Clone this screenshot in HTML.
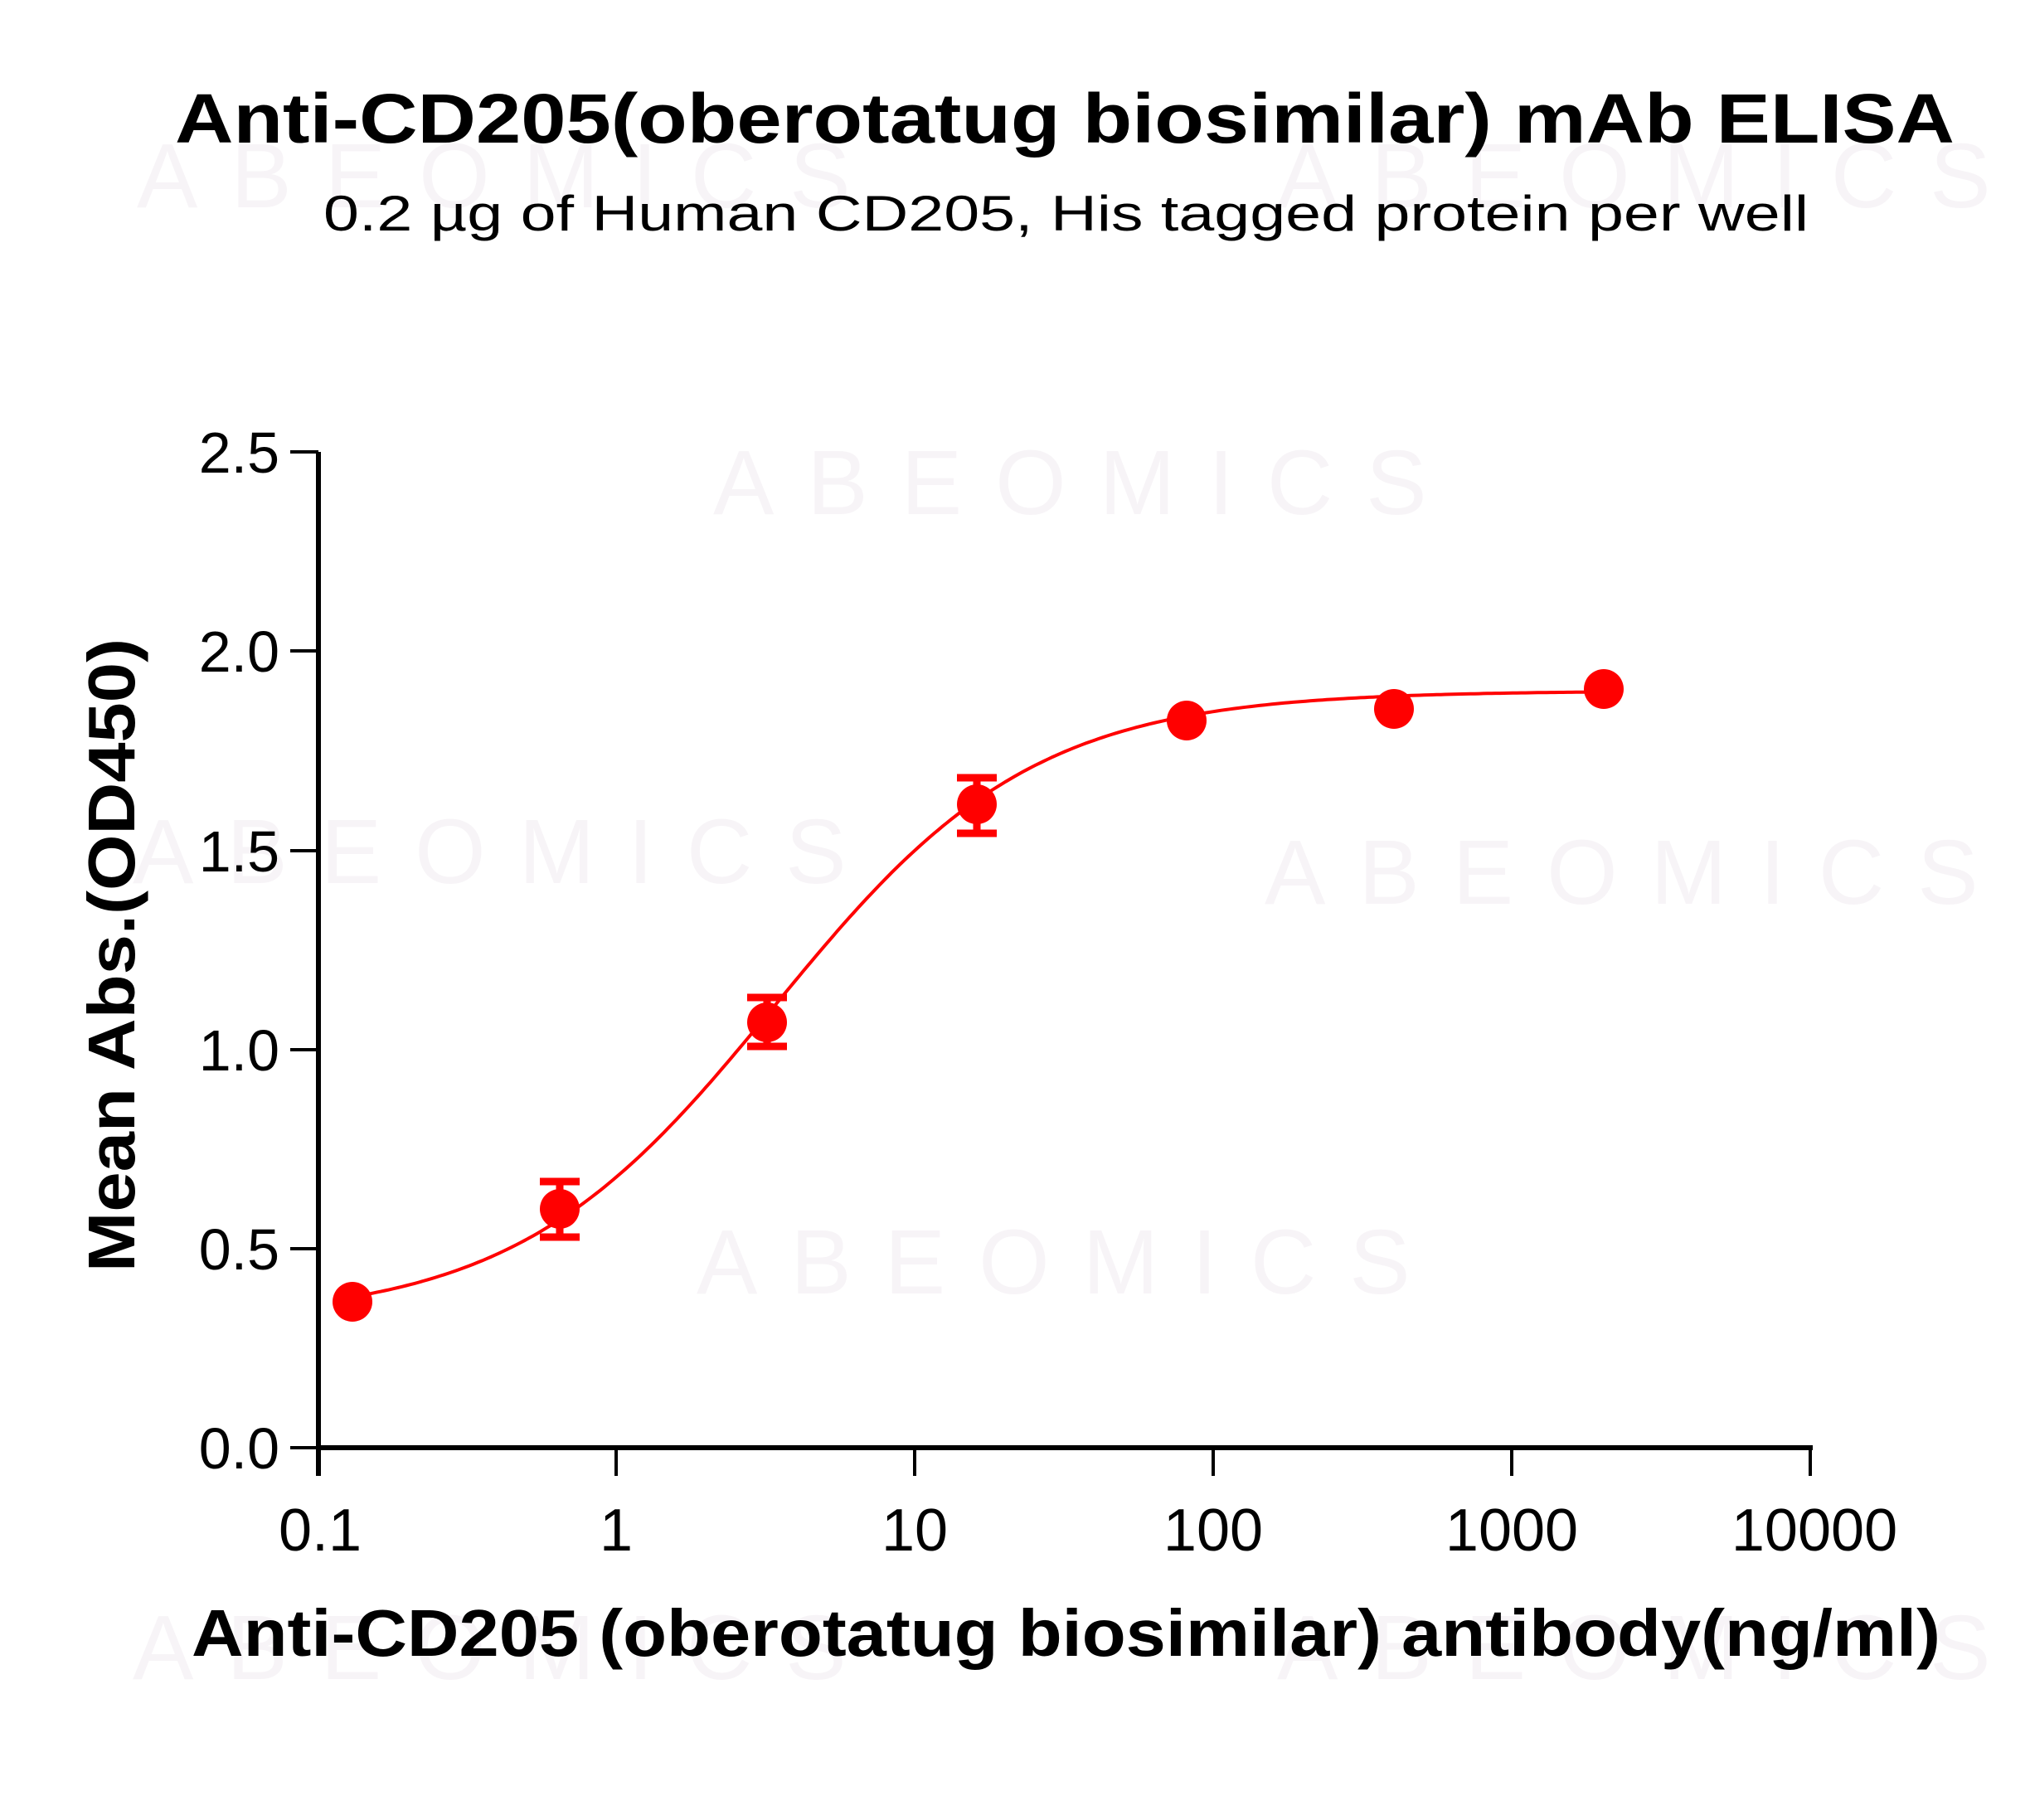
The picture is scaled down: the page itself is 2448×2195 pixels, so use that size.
<!DOCTYPE html>
<html><head><meta charset="utf-8"><style>html,body{margin:0;padding:0;background:#fff}</style></head>
<body>
<svg id="s" width="2448" height="2190" xmlns="http://www.w3.org/2000/svg" font-family="Liberation Sans, sans-serif">
<rect width="2448" height="2190" fill="#fff"/>
<g fill="#f7f4f7" font-size="110" letter-spacing="40">
<text x="165" y="250">ABEOMICS</text><text x="1540" y="250">ABEOMICS</text>
<text x="860" y="620">ABEOMICS</text>
<text x="160" y="1065">ABEOMICS</text><text x="1525" y="1090">ABEOMICS</text>
<text x="840" y="1560">ABEOMICS</text>
<text x="160" y="2025">ABEOMICS</text><text x="1540" y="2025">ABEOMICS</text>
</g>
<text x="211" y="172" font-size="84" font-weight="bold" textLength="2146" lengthAdjust="spacingAndGlyphs">Anti-CD205(oberotatug biosimilar) mAb ELISA</text>
<text x="390" y="278" font-size="60" textLength="1791" lengthAdjust="spacingAndGlyphs">0.2 µg of Human CD205, His tagged protein per well</text>
<g stroke="#000" fill="none">
<line x1="384" y1="545" x2="384" y2="1780" stroke-width="6"/>
<line x1="381" y1="1746" x2="2186" y2="1746" stroke-width="6"/>
<g stroke-width="4">
<line x1="350" y1="545" x2="384" y2="545"/><line x1="350" y1="785" x2="384" y2="785"/>
<line x1="350" y1="1026" x2="384" y2="1026"/><line x1="350" y1="1266" x2="384" y2="1266"/>
<line x1="350" y1="1506" x2="384" y2="1506"/><line x1="350" y1="1746" x2="384" y2="1746"/>
<line x1="743" y1="1746" x2="743" y2="1780"/><line x1="1103" y1="1746" x2="1103" y2="1780"/>
<line x1="1463" y1="1746" x2="1463" y2="1780"/><line x1="1823" y1="1746" x2="1823" y2="1780"/>
<line x1="2183" y1="1746" x2="2183" y2="1780"/>
</g></g>
<g font-size="70" text-anchor="end">
<text x="337" y="570">2.5</text><text x="337" y="810">2.0</text><text x="337" y="1051">1.5</text>
<text x="337" y="1291">1.0</text><text x="337" y="1531">0.5</text><text x="337" y="1771">0.0</text>
</g>
<g font-size="72" text-anchor="middle">
<text x="386" y="1870">0.1</text><text x="743" y="1870">1</text><text x="1103" y="1870">10</text>
<text x="1463" y="1870">100</text><text x="1823" y="1870">1000</text><text x="2188" y="1870">10000</text>
</g>
<text x="231" y="1997" font-size="80" font-weight="bold" textLength="2109" lengthAdjust="spacingAndGlyphs">Anti-CD205 (oberotatug biosimilar) antibody(ng/ml)</text>
<text transform="translate(162,1534) rotate(-90)" font-size="80" font-weight="bold" textLength="764" lengthAdjust="spacingAndGlyphs">Mean Abs.(OD450)</text>
<path id="c" fill="none" stroke="#f00" stroke-width="4"/>
<g stroke="#f00" stroke-width="9">
<line x1="675" y1="1425" x2="675" y2="1492"/><line x1="651" y1="1425" x2="699" y2="1425"/><line x1="651" y1="1492" x2="699" y2="1492"/>
<line x1="925" y1="1203" x2="925" y2="1262"/><line x1="901" y1="1203" x2="949" y2="1203"/><line x1="901" y1="1262" x2="949" y2="1262"/>
<line x1="1178" y1="938" x2="1178" y2="1005"/><line x1="1154" y1="938" x2="1202" y2="938"/><line x1="1154" y1="1005" x2="1202" y2="1005"/>
</g>
<g fill="#f00">
<circle cx="425" cy="1570" r="24"/><circle cx="675" cy="1458" r="24"/><circle cx="925" cy="1233" r="24"/>
<circle cx="1178" cy="970" r="24"/><circle cx="1431" cy="869" r="24"/><circle cx="1681" cy="855" r="24"/><circle cx="1934" cy="831" r="24"/>
</g>
</svg>
<script>
var d="";var a=Math.log10(0.1255),b=Math.log10(2200);for(var i=0;i<=300;i++){var lx=a+i/300*(b-a);var c=Math.pow(10,lx);
var y=0.32+(1.9-0.32)/(1+Math.pow(3.4/c,1.0));var X=383+360*(lx+1);var Y=1746-480.4*y;if(X>1934)break;d+=(i?"L":"M")+X.toFixed(1)+","+Y.toFixed(1);}
document.getElementById("c").setAttribute("d",d);
</script>
</body></html>
